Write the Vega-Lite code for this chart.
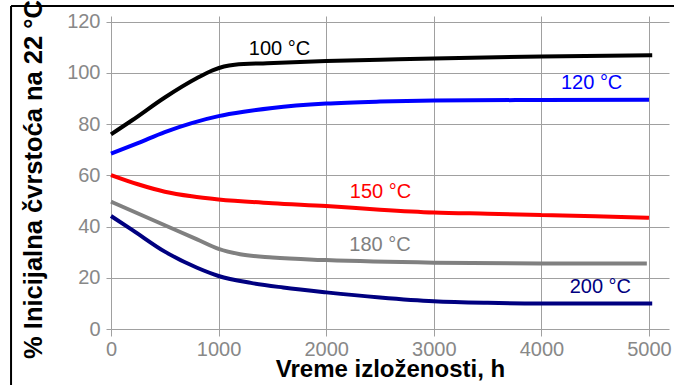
{
  "$schema": "https://vega.github.io/schema/vega-lite/v6.json",
  "width": 558,
  "height": 313,
  "autosize": {"type": "none"},
  "padding": {"left": 111, "top": 16, "right": 5, "bottom": 56},
  "background": "white",
  "config": {
    "view": {"stroke": null},
    "font": "Liberation Sans",
    "axis": {
      "gridColor": "#a0a0a0",
      "gridWidth": 1,
      "gridOpacity": 1,
      "tickColor": "#a0a0a0",
      "tickWidth": 1,
      "domain": false,
      "labelColor": "#888888",
      "labelFontSize": 20,
      "labelFont": "Liberation Sans",
      "titleFont": "Liberation Sans",
      "titleColor": "#000000",
      "titleFontWeight": "bold"
    }
  },
  "datasets": {
    "curves": [
      {"serie": "100 °C", "h": 0, "v": 76.0},
      {"serie": "100 °C", "h": 200, "v": 81.6},
      {"serie": "100 °C", "h": 500, "v": 90.4},
      {"serie": "100 °C", "h": 800, "v": 98.0},
      {"serie": "100 °C", "h": 950, "v": 101.1},
      {"serie": "100 °C", "h": 1050, "v": 102.5},
      {"serie": "100 °C", "h": 1150, "v": 103.2},
      {"serie": "100 °C", "h": 1450, "v": 103.8},
      {"serie": "100 °C", "h": 2000, "v": 104.6},
      {"serie": "100 °C", "h": 2500, "v": 105.1},
      {"serie": "100 °C", "h": 3000, "v": 105.6},
      {"serie": "100 °C", "h": 4000, "v": 106.4},
      {"serie": "100 °C", "h": 5030, "v": 106.9},
      {"serie": "120 °C", "h": 0, "v": 68.5},
      {"serie": "120 °C", "h": 250, "v": 72.6},
      {"serie": "120 °C", "h": 500, "v": 76.9},
      {"serie": "120 °C", "h": 750, "v": 80.4},
      {"serie": "120 °C", "h": 1000, "v": 83.1},
      {"serie": "120 °C", "h": 1250, "v": 84.9},
      {"serie": "120 °C", "h": 1500, "v": 86.3},
      {"serie": "120 °C", "h": 2000, "v": 88.0},
      {"serie": "120 °C", "h": 2500, "v": 88.8},
      {"serie": "120 °C", "h": 3000, "v": 89.2},
      {"serie": "120 °C", "h": 4000, "v": 89.4},
      {"serie": "120 °C", "h": 5000, "v": 89.5},
      {"serie": "150 °C", "h": 0, "v": 60.1},
      {"serie": "150 °C", "h": 250, "v": 56.5},
      {"serie": "150 °C", "h": 500, "v": 53.6},
      {"serie": "150 °C", "h": 750, "v": 51.8},
      {"serie": "150 °C", "h": 1000, "v": 50.6},
      {"serie": "150 °C", "h": 1500, "v": 49.1},
      {"serie": "150 °C", "h": 2000, "v": 48.0},
      {"serie": "150 °C", "h": 2500, "v": 46.6},
      {"serie": "150 °C", "h": 3000, "v": 45.5},
      {"serie": "150 °C", "h": 3500, "v": 45.0},
      {"serie": "150 °C", "h": 4000, "v": 44.5},
      {"serie": "150 °C", "h": 4500, "v": 44.0},
      {"serie": "150 °C", "h": 5000, "v": 43.4},
      {"serie": "180 °C", "h": 0, "v": 49.7},
      {"serie": "180 °C", "h": 500, "v": 40.5},
      {"serie": "180 °C", "h": 800, "v": 35.0},
      {"serie": "180 °C", "h": 1000, "v": 31.3},
      {"serie": "180 °C", "h": 1200, "v": 29.2},
      {"serie": "180 °C", "h": 1500, "v": 27.9},
      {"serie": "180 °C", "h": 2000, "v": 26.9},
      {"serie": "180 °C", "h": 3000, "v": 25.9},
      {"serie": "180 °C", "h": 4000, "v": 25.6},
      {"serie": "180 °C", "h": 4980, "v": 25.6},
      {"serie": "200 °C", "h": 0, "v": 44.1},
      {"serie": "200 °C", "h": 200, "v": 38.6},
      {"serie": "200 °C", "h": 500, "v": 30.2},
      {"serie": "200 °C", "h": 800, "v": 23.9},
      {"serie": "200 °C", "h": 1000, "v": 20.7},
      {"serie": "200 °C", "h": 1300, "v": 18.0},
      {"serie": "200 °C", "h": 1600, "v": 16.2},
      {"serie": "200 °C", "h": 2000, "v": 14.3},
      {"serie": "200 °C", "h": 2500, "v": 12.3},
      {"serie": "200 °C", "h": 3000, "v": 10.8},
      {"serie": "200 °C", "h": 3500, "v": 10.2},
      {"serie": "200 °C", "h": 4000, "v": 10.0},
      {"serie": "200 °C", "h": 5030, "v": 10.0}
    ],
    "labels": [
      {"serie": "100 °C", "h": 1566, "v": 109.2},
      {"serie": "120 °C", "h": 4467, "v": 96.2},
      {"serie": "150 °C", "h": 2505, "v": 53.5},
      {"serie": "180 °C", "h": 2500, "v": 32.8},
      {"serie": "200 °C", "h": 4548, "v": 16.5}
    ]
  },
  "layer": [
    {
      "data": {"name": "curves"},
      "mark": {"type": "line", "strokeWidth": 4, "interpolate": "monotone", "clip": false},
      "encoding": {
        "x": {
          "field": "h", "type": "quantitative",
          "scale": {"domain": [0, 5186], "nice": false, "zero": false},
          "axis": {
            "values": [0, 1000, 2000, 3000, 4000, 5000],
            "format": "d",
            "grid": true,
            "tickSize": 7,
            "labelPadding": 3,
            "labelFlush": false,
            "title": "Vreme izloženosti, h",
            "titleFontSize": 24,
            "titleY": 47,
            "titleBaseline": "alphabetic"
          }
        },
        "y": {
          "field": "v", "type": "quantitative",
          "scale": {"domain": [0, 122.2], "nice": false},
          "axis": {
            "values": [0, 20, 40, 60, 80, 100, 120],
            "grid": true,
            "tickSize": 5,
            "labelPadding": 6,
            "title": "% Inicijalna čvrstoća na 22 °C",
            "titleFontSize": 25.5,
            "titleAngle": 270,
            "titleAlign": "center",
            "titleBaseline": "middle",
            "titleX": -78,
            "titleY": 163
          }
        },
        "color": {
          "field": "serie", "type": "nominal",
          "scale": {
            "domain": ["100 °C", "120 °C", "150 °C", "180 °C", "200 °C"],
            "range": ["#000000", "#0000ff", "#ff0000", "#808080", "#000080"]
          },
          "legend": null
        },
        "detail": {"field": "serie"}
      }
    },
    {
      "data": {"name": "labels"},
      "mark": {"type": "text", "fontSize": 20, "align": "center", "baseline": "middle", "font": "Liberation Sans"},
      "encoding": {
        "x": {"field": "h", "type": "quantitative"},
        "y": {"field": "v", "type": "quantitative"},
        "text": {"field": "serie"},
        "color": {"field": "serie", "type": "nominal", "legend": null}
      }
    },
    {
      "data": {"values": [{}]},
      "mark": {"type": "rule", "color": "#000000", "strokeWidth": 2, "clip": false},
      "encoding": {
        "x": {"datum": -929, "type": "quantitative"},
        "y": {"datum": 126.1, "type": "quantitative"},
        "y2": {"datum": -30}
      }
    },
    {
      "data": {"values": [{}]},
      "mark": {"type": "rule", "color": "#000000", "strokeWidth": 2, "clip": false},
      "encoding": {
        "y": {"datum": 126.1, "type": "quantitative"},
        "x": {"datum": -929, "type": "quantitative"},
        "x2": {"datum": 5600}
      }
    }
  ]
}
